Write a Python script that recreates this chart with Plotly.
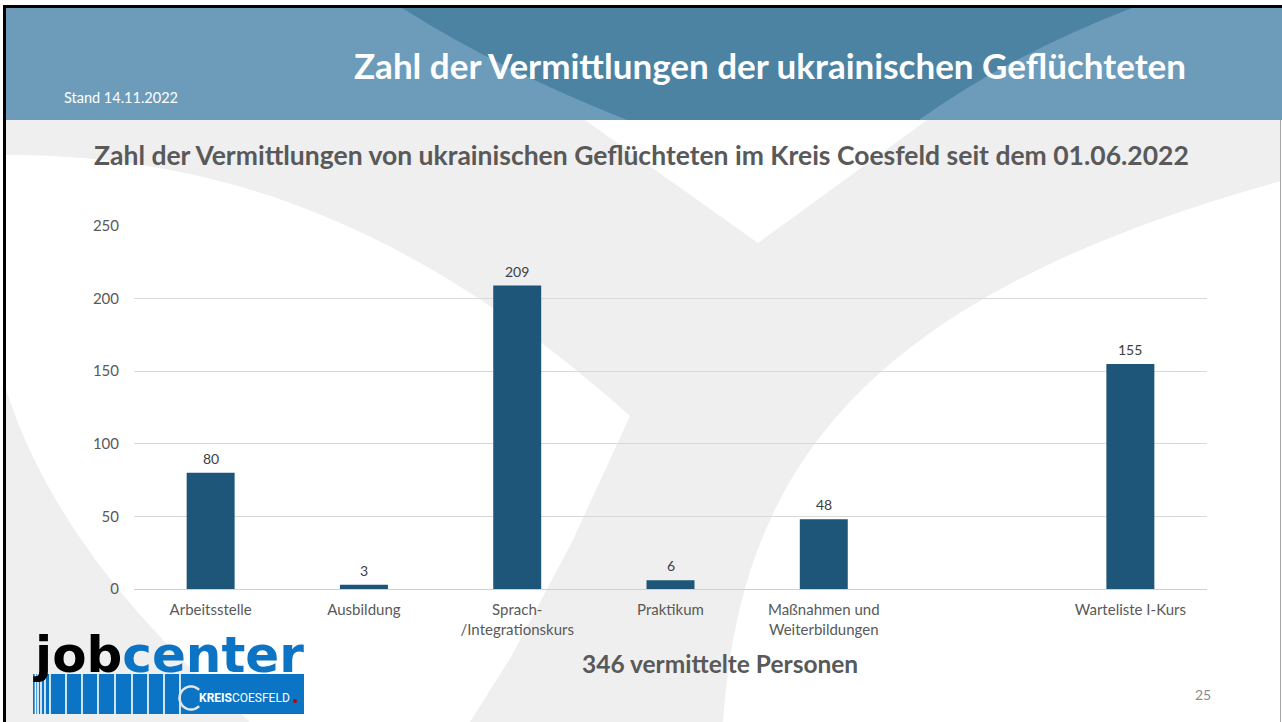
import math
import plotly.graph_objects as go

# ---------------- data ----------------
categories = ["Arbeitsstelle", "Ausbildung", "Sprach-<br>/Integrationskurs", "Praktikum",
              "Maßnahmen und<br>Weiterbildungen", " ", "Warteliste I-Kurs"]
values = [80, 3, 209, 6, 48, None, 155]
y_ticks = [0, 50, 100, 150, 200, 250]

header_title = "Zahl der Vermittlungen der ukrainischen Geflüchteten"
stand_text = "Stand 14.11.2022"
chart_title = "Zahl der Vermittlungen von ukrainischen Geflüchteten im Kreis Coesfeld seit dem 01.06.2022"
total_text = "346 vermittelte Personen"
page_no = "25"

# ---------------- layout geometry (pixels) ----------------
W_FIG, H_FIG = 1282, 722
L, R, T, B = 134, 1207, 226, 589
PW, PH = R - L, B - T


def px(x):
    return (x - L) / PW


def py(y):
    return (B - y) / PH


def path(cmds):
    out = []
    for c in cmds:
        if isinstance(c, str):
            out.append(c)
        else:
            out.append(f"{px(c[0]):.5f},{py(c[1]):.5f}")
    return " ".join(out)


def rect(x0, y0, x1, y1, color, layer="below"):
    return dict(type="rect", xref="paper", yref="paper",
                x0=px(x0), x1=px(x1), y0=py(y1), y1=py(y0),
                fillcolor=color, layer=layer, line=dict(width=0))


FONT = "Lato, 'Open Sans', sans-serif"

shapes = []
# grey page background
shapes.append(rect(6, 120, 1281, 722, "#EFEFEF"))
# white swoosh: left arm
shapes.append(dict(type="path", xref="paper", yref="paper", layer="below",
                   fillcolor="white", line=dict(width=0),
                   path=path(["M", (6, 155), "C", (200, 155), (400, 210), (630, 416),
                              "L", (572, 542), "L", (511, 657), "L", (470, 722),
                              "L", (250, 722), "Q", (60, 560), (6, 389), "Z"])))
# white notch at top
shapes.append(dict(type="path", xref="paper", yref="paper", layer="below",
                   fillcolor="white", line=dict(width=0),
                   path=path(["M", (585, 120), "L", (758, 243), "L", (927, 120), "Z"])))
# white swoosh: right arm
shapes.append(dict(type="path", xref="paper", yref="paper", layer="below",
                   fillcolor="white", line=dict(width=0),
                   path=path(["M", (723, 722), "C", (740, 480), (850, 300), (1281, 181),
                              "L", (1281, 722), "Z"])))
# header band
shapes.append(rect(6, 8, 1282, 120, "#6C9CBA"))
shapes.append(dict(type="path", xref="paper", yref="paper", layer="below",
                   fillcolor="#4C83A3", line=dict(width=0),
                   path=path(["M", (402, 8), "Q", (500, 70), (627, 120),
                              "L", (919, 120), "Q", (1010, 55), (1132, 8), "Z"])))
# borders
shapes.append(rect(3, 5, 1282, 8, "#000000", layer="above"))
shapes.append(rect(3, 5, 6, 722, "#000000", layer="above"))
shapes.append(rect(1280, 120, 1281, 722, "#A6A6A6", layer="above"))

# logo: blue stripes + box
LOGO_BLUE = "#0B74C4"
shapes.append(rect(33, 674, 304, 714, LOGO_BLUE, layer="above"))
for gx in [35.5, 38, 41, 45, 50, 66, 82, 98, 115, 132, 148, 164, 180]:
    shapes.append(rect(gx - 0.8, 674, gx + 0.8, 714, "white", layer="above"))
# "C" ring of Kreis Coesfeld logo
cx, cy, rr = 191, 698, 11.5
arc_pts = []
for i in range(0, 37):
    a = math.radians(45 + i * 270 / 36)
    arc_pts.append((cx + rr * math.cos(a), cy - rr * math.sin(a)))
arc_cmd = ["M", arc_pts[0]]
for p in arc_pts[1:]:
    arc_cmd += ["L", p]
shapes.append(dict(type="path", xref="paper", yref="paper", layer="above",
                   line=dict(color="#E6E6E6", width=2.5), path=path(arc_cmd)))
shapes.append(dict(type="circle", xref="paper", yref="paper", layer="above",
                   x0=px(293), x1=px(297), y0=py(703), y1=py(699),
                   fillcolor="#C00000", line=dict(width=0)))

annotations = [
    dict(text=f"<b>{header_title}</b>", x=px(770), y=py(65), xref="paper", yref="paper",
         showarrow=False, font=dict(family=FONT, size=35, color="white"),
         xanchor="center", yanchor="middle"),
    dict(text=stand_text, x=px(62), y=py(97), xref="paper", yref="paper",
         showarrow=False, font=dict(family=FONT, size=14.5, color="white"),
         xanchor="left", yanchor="middle"),
    dict(text=f"<b>{chart_title}</b>", x=px(641.5), y=py(155), xref="paper", yref="paper",
         showarrow=False, font=dict(family=FONT, size=26.5, color="#595959"),
         xanchor="center", yanchor="middle"),
    dict(text=f"<b>{total_text}</b>", x=px(720), y=py(663), xref="paper", yref="paper",
         showarrow=False, font=dict(family=FONT, size=24.5, color="#595959"),
         xanchor="center", yanchor="middle"),
    dict(text=page_no, x=px(1203), y=py(694), xref="paper", yref="paper",
         showarrow=False, font=dict(family=FONT, size=14, color="#8C8C8C"),
         xanchor="center", yanchor="middle"),
    # logo text
    dict(text="<b><span style='color:#000000'>job</span><span style='color:#0B74C4'>center</span></b>",
         x=px(31), y=py(655), xref="paper", yref="paper", showarrow=False,
         font=dict(family="DejaVu Sans", size=50, color="#000000"),
         xanchor="left", yanchor="middle"),
    dict(text="<b>KREIS</b>COESFELD", x=px(197), y=py(698), xref="paper", yref="paper",
         showarrow=False, font=dict(family="Roboto", size=12, color="white"),
         xanchor="left", yanchor="middle"),
]

# value labels above bars, placed on the data axes
for cat, v in zip(categories, values):
    if v is None:
        continue
    annotations.append(dict(text=str(v), x=cat, y=v, xref="x", yref="y",
                            showarrow=False, yanchor="bottom", xanchor="center", yshift=4,
                            font=dict(family=FONT, size=14, color="#404040")))

fig = go.Figure(go.Bar(
    x=categories, y=values,
    marker=dict(color="#1D5679", line=dict(width=0)),
    cliponaxis=False,
    hoverinfo="skip",
))

fig.update_layout(
    width=W_FIG, height=H_FIG,
    margin=dict(l=L, r=W_FIG - R, t=T, b=H_FIG - B, pad=0),
    paper_bgcolor="white", plot_bgcolor="rgba(0,0,0,0)",
    bargap=0.687,
    showlegend=False,
    shapes=shapes,
    annotations=annotations,
    font=dict(family=FONT),
)
fig.update_xaxes(showgrid=False, showline=False, zeroline=False,
                 tickfont=dict(family=FONT, size=15, color="#595959"),
                 ticks="outside", ticklen=7, tickcolor="rgba(0,0,0,0)",
                 fixedrange=True)
fig.update_yaxes(range=[0, 250], tickvals=y_ticks, showgrid=True, gridcolor="#D9D9D9",
                 gridwidth=1, zeroline=True, zerolinecolor="#D0D0D0", zerolinewidth=1,
                 showline=False, tickfont=dict(family=FONT, size=15, color="#595959"),
                 ticklabelstandoff=14, fixedrange=True)

fig.write_html("out.html", config={"displayModeBar": False},
               post_script="document.body.style.margin='0';document.body.style.overflow='hidden';")
